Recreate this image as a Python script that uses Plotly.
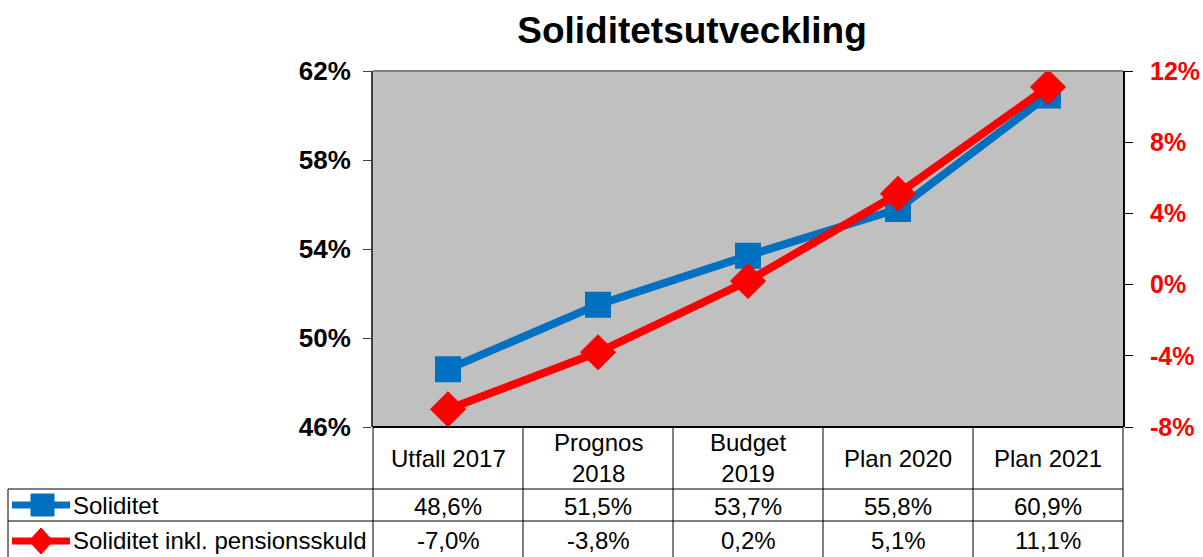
import plotly.graph_objects as go

categories = ["Utfall 2017", "Prognos<br>2018", "Budget<br>2019", "Plan 2020", "Plan 2021"]
soliditet = [48.6, 51.5, 53.7, 55.8, 60.9]
soliditet_pension = [-7.0, -3.8, 0.2, 5.1, 11.1]
series_names = ["Soliditet", "Soliditet inkl. pensionsskuld"]
left_ticks = [46, 50, 54, 58, 62]
right_ticks = [-8, -4, 0, 4, 8, 12]

W, H = 1203, 557
L, R, T, B = 373, 1123, 71, 427
BLUE = "#0070C0"
RED = "#FF0000"
FONT = "Liberation Sans, Arial, sans-serif"

def px(x):
    return (x - L) / (R - L)

def py(y):
    return (B - y) / (B - T)

xs = list(range(len(categories)))

fig = go.Figure()
fig.add_trace(go.Scatter(
    x=xs, y=soliditet, mode="lines+markers", name=series_names[0],
    line=dict(color=BLUE, width=8),
    marker=dict(symbol="square", size=23, color=BLUE, line=dict(color=BLUE, width=3)),
    yaxis="y", showlegend=False))
fig.add_trace(go.Scatter(
    x=xs, y=soliditet_pension, mode="lines+markers", name=series_names[1],
    line=dict(color=RED, width=8),
    marker=dict(symbol="diamond", size=27, color=RED, line=dict(color=RED, width=1)),
    yaxis="y2", showlegend=False))

shapes = []
shapes.append(dict(type="line", xref="paper", yref="paper", x0=0, x1=1, y0=1, y1=1,
                   line=dict(color="#808080", width=2)))
line_style = dict(color="#000000", width=1)
col_edges = [L + i * (R - L) / len(categories) for i in range(len(categories) + 1)]
for cx in col_edges:
    shapes.append(dict(type="line", xref="paper", yref="paper",
                       x0=px(cx), x1=px(cx), y0=py(427), y1=py(560), line=line_style))
for ry in [489, 521]:
    shapes.append(dict(type="line", xref="paper", yref="paper",
                       x0=px(8), x1=px(R), y0=py(ry), y1=py(ry), line=line_style))
shapes.append(dict(type="line", xref="paper", yref="paper",
                   x0=px(8), x1=px(8), y0=py(489), y1=py(560), line=line_style))
shapes.append(dict(type="line", xref="paper", yref="paper", x0=0, x1=1, y0=0, y1=0,
                   line=dict(color="#000000", width=2)))

# legend keys
shapes.append(dict(type="line", xref="paper", yref="paper", x0=px(12), x1=px(70),
                   y0=py(505), y1=py(505), line=dict(color=BLUE, width=7)))
shapes.append(dict(type="rect", xref="paper", yref="paper", x0=px(31), x1=px(54),
                   y0=py(494), y1=py(516), fillcolor=BLUE, line=dict(color=BLUE, width=1)))
shapes.append(dict(type="line", xref="paper", yref="paper", x0=px(12), x1=px(70),
                   y0=py(541), y1=py(541), line=dict(color=RED, width=7)))
dpath = "M {} {} L {} {} L {} {} L {} {} Z".format(
    px(41), py(528), px(53), py(541), px(41), py(554), px(29), py(541))
shapes.append(dict(type="path", xref="paper", yref="paper", path=dpath,
                   fillcolor=RED, line=dict(color=RED, width=1)))

annotations = []
tfont = dict(family=FONT, size=24, color="#000000")
for i, c in enumerate(categories):
    annotations.append(dict(x=i, y=py(458), xref="x", yref="paper", text=c, showarrow=False,
                            font=tfont, xanchor="center", yanchor="middle"))
    annotations.append(dict(x=i, y=py(506), xref="x", yref="paper",
                            text=f"{soliditet[i]:.1f}%".replace(".", ","), showarrow=False,
                            font=tfont, xanchor="center", yanchor="middle"))
    annotations.append(dict(x=i, y=py(540), xref="x", yref="paper",
                            text=f"{soliditet_pension[i]:.1f}%".replace(".", ","), showarrow=False,
                            font=tfont, xanchor="center", yanchor="middle"))
for name, yy in zip(series_names, [505, 540]):
    annotations.append(dict(x=px(71), y=py(yy), xref="paper", yref="paper", text=name,
                            showarrow=False, font=tfont, xanchor="left", yanchor="middle"))

fig.update_layout(
    width=W, height=H,
    margin=dict(l=L, r=W - R, t=T, b=H - B, pad=0, autoexpand=False),
    paper_bgcolor="white", plot_bgcolor="#C0C0C0",
    title=dict(text="<b>Soliditetsutveckling</b>", x=692 / W, xanchor="center",
               y=1 - 30 / H, yanchor="middle",
               font=dict(family=FONT, size=37, color="#000000")),
    xaxis=dict(range=[-0.5, len(categories) - 0.5], showticklabels=False, showgrid=False,
               zeroline=False, ticks="", showline=False, fixedrange=True, automargin=False),
    yaxis=dict(range=[46, 62], tickvals=left_ticks, automargin=False,
               ticktext=[f"{v}%" for v in left_ticks], showgrid=False, zeroline=False,
               showline=True, linecolor="#404040", linewidth=2, ticks="outside",
               ticklen=8, tickcolor="#404040",
               tickfont=dict(family=FONT, size=26, color="#000000", weight="bold"),
               ticklabelstandoff=7),
    yaxis2=dict(range=[-8, 12], tickvals=right_ticks, automargin=False,
                ticktext=[f"{v}%" for v in right_ticks], overlaying="y", side="right",
                showgrid=False, zeroline=False, showline=True, linecolor="#000000",
                linewidth=2, ticks="outside", ticklen=8, tickcolor="#000000",
                tickfont=dict(family=FONT, size=25, color=RED, weight="bold"),
                ticklabelstandoff=12),
    shapes=shapes, annotations=annotations,
)

fig.write_html("out.html", config={"displayModeBar": False},
               post_script="document.body.style.margin='0';document.body.style.overflow='hidden';")
